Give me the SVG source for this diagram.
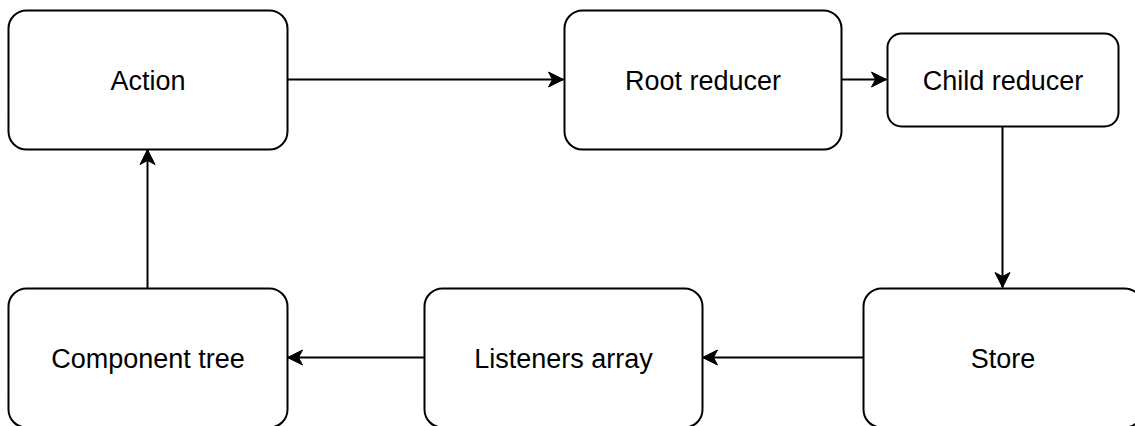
<svg xmlns="http://www.w3.org/2000/svg" width="1135" height="426" viewBox="0 0 1135 426">
<style>
.box{fill:#fff;stroke:#000;stroke-width:2}
.lbl{font-family:"Liberation Sans",Arial,sans-serif;font-size:27px;fill:#000;text-anchor:middle}
.edge{fill:none;stroke:#000;stroke-width:2;marker-end:url(#arr)}
</style>
<defs>
<marker id="arr" markerUnits="userSpaceOnUse" markerWidth="20" markerHeight="20" viewBox="-16 -10 20 20" refX="0" refY="0" orient="auto">
<path d="M-15,-7.5 L0,0 L-15,7.5 L-11,0 Z" fill="#000" stroke="#000" stroke-width="1"/>
</marker>
</defs>
<rect width="1135" height="426" fill="#fff"/>
<g id="connectors">
<path class="edge" d="M287.5,79.5 H563.5"/>
<path class="edge" d="M841.5,79.5 H886.5"/>
<path class="edge" d="M1002.5,126 V287.5"/>
<path class="edge" d="M863.5,357.5 H702.5"/>
<path class="edge" d="M424.5,357.5 H287.5"/>
<path class="edge" d="M147.5,288 V149.5"/>
</g>
<g id="action"><rect class="box" x="8.5" y="10.5" width="279" height="139" rx="18"/><text class="lbl" x="148" y="89.5">Action</text></g>
<g id="root-reducer"><rect class="box" x="564.5" y="10.5" width="277" height="139" rx="18"/><text class="lbl" x="703" y="89.5">Root reducer</text></g>
<g id="child-reducer"><rect class="box" x="887.5" y="33.5" width="231" height="93" rx="14"/><text class="lbl" x="1003" y="89.5">Child reducer</text></g>
<g id="store"><rect class="box" x="863.5" y="288.5" width="279" height="139" rx="18"/><text class="lbl" x="1003" y="367.5">Store</text></g>
<g id="listeners-array"><rect class="box" x="424.5" y="288.5" width="278" height="139" rx="18"/><text class="lbl" x="563.5" y="367.5">Listeners array</text></g>
<g id="component-tree"><rect class="box" x="8.5" y="288.5" width="279" height="139" rx="18"/><text class="lbl" x="148" y="367.5">Component tree</text></g>
</svg>
